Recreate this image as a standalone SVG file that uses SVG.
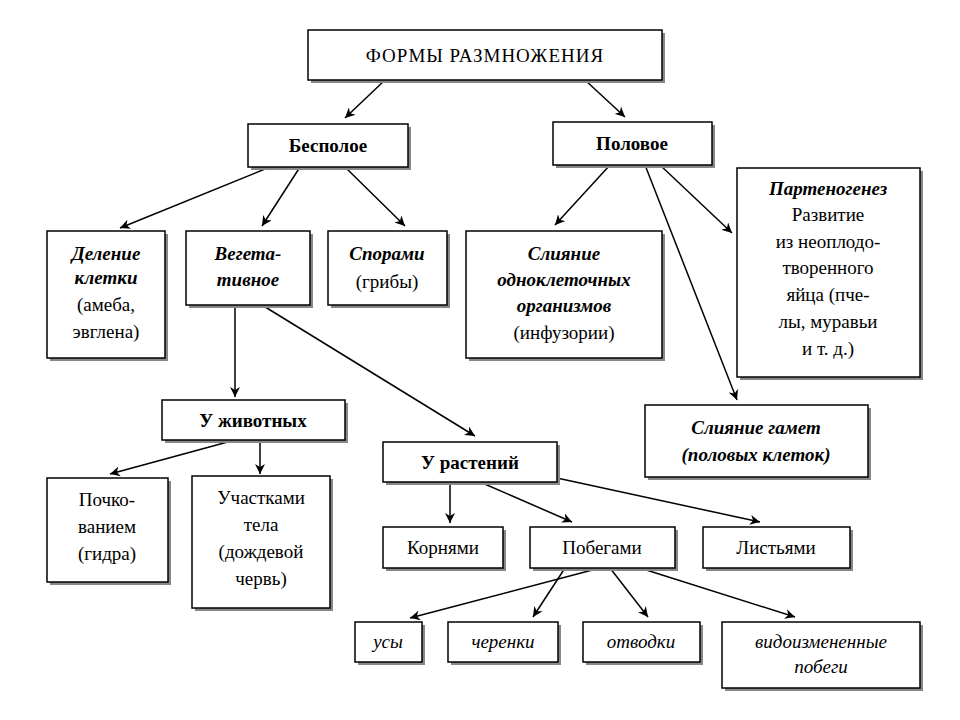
<svg xmlns="http://www.w3.org/2000/svg" width="960" height="720" viewBox="0 0 960 720">
<defs>
<marker id="a" viewBox="0 0 10 10" refX="10" refY="5" markerWidth="10" markerHeight="10" markerUnits="userSpaceOnUse" orient="auto"><path d="M0,0 L10,5 L0,10 L3,5 Z" fill="#000"/></marker>
</defs>
<style>
rect.b{fill:#fff;stroke:#000;stroke-width:1.5}
rect.s{fill:#888}
text{font-family:"Liberation Serif","Times New Roman","DejaVu Serif",serif;font-size:19px;text-anchor:middle;fill:#000}
.bd{font-weight:bold}
.bi{font-weight:bold;font-style:italic}
.it{font-style:italic}
.t{letter-spacing:1px}
line{stroke:#000;stroke-width:1.5;marker-end:url(#a)}
</style>
<rect width="960" height="720" fill="#fff"/>
<g id="connectors">
<line x1="385" y1="80" x2="345" y2="118"/>
<line x1="585" y1="80" x2="625" y2="117"/>
<line x1="270" y1="167" x2="120" y2="228"/>
<line x1="300" y1="167" x2="262" y2="226"/>
<line x1="345" y1="167" x2="405" y2="226"/>
<line x1="610" y1="165" x2="555" y2="225"/>
<line x1="660" y1="165" x2="732" y2="233"/>
<line x1="645" y1="165" x2="737" y2="400"/>
<line x1="235" y1="305" x2="235" y2="397"/>
<line x1="262" y1="305" x2="475" y2="436"/>
<line x1="260" y1="440" x2="260" y2="474"/>
<line x1="235" y1="440" x2="110" y2="474"/>
<line x1="450" y1="482" x2="450" y2="523"/>
<line x1="480" y1="482" x2="572" y2="522"/>
<line x1="520" y1="470" x2="760" y2="522"/>
<line x1="600" y1="568" x2="410" y2="618"/>
<line x1="565" y1="568" x2="533" y2="617"/>
<line x1="610" y1="568" x2="648" y2="617"/>
<line x1="640" y1="568" x2="795" y2="617"/>
</g>
<g id="n1"><rect class="s" x="311" y="33" width="354" height="50"/><rect class="b" x="308" y="30" width="354" height="50"/><text class="t" x="485" y="62">ФОРМЫ РАЗМНОЖЕНИЯ</text></g>
<g id="n2"><rect class="s" x="251" y="127" width="160" height="43"/><rect class="b" x="248" y="124" width="160" height="43"/><text class="bd" x="328" y="152">Бесполое</text></g>
<g id="n3"><rect class="s" x="556" y="125" width="159" height="43"/><rect class="b" x="553" y="122" width="159" height="43"/><text class="bd" x="632" y="150">Половое</text></g>
<g id="n4"><rect class="s" x="50" y="234" width="118" height="127"/><rect class="b" x="47" y="231" width="118" height="127"/><text class="bi" x="106" y="260">Деление</text><text class="bi" x="106" y="284">клетки</text><text x="106" y="311">(амеба,</text><text x="106" y="338">эвглена)</text></g>
<g id="n5"><rect class="s" x="189" y="234" width="124" height="74"/><rect class="b" x="186" y="231" width="124" height="74"/><text class="bi" x="248" y="260">Вегета-</text><text class="bi" x="248" y="286">тивное</text></g>
<g id="n6"><rect class="s" x="331" y="234" width="119" height="74"/><rect class="b" x="328" y="231" width="119" height="74"/><text class="bi" x="387" y="260">Спорами</text><text x="387" y="288">(грибы)</text></g>
<g id="n7"><rect class="s" x="469" y="234" width="196" height="127"/><rect class="b" x="466" y="231" width="196" height="127"/><text class="bi" x="564" y="260">Слияние</text><text class="bi" x="564" y="286">одноклеточных</text><text class="bi" x="564" y="312">организмов</text><text x="564" y="339">(инфузории)</text></g>
<g id="n8"><rect class="s" x="740" y="171" width="183" height="209"/><rect class="b" x="737" y="168" width="183" height="209"/><text class="bi" x="828" y="195">Партеногенез</text><text x="828" y="221">Развитие</text><text x="828" y="248">из неоплодо-</text><text x="828" y="274">творенного</text><text x="828" y="301">яйца (пче-</text><text x="828" y="328">лы, муравьи</text><text x="828" y="355">и т. д.)</text></g>
<g id="n9"><rect class="s" x="165" y="403" width="183" height="40"/><rect class="b" x="162" y="400" width="183" height="40"/><text class="bd" x="253" y="427">У животных</text></g>
<g id="n10"><rect class="s" x="648" y="408" width="223" height="72"/><rect class="b" x="645" y="405" width="223" height="72"/><text class="bi" x="756" y="434">Слияние гамет</text><text class="bi" x="756" y="461">(половых клеток)</text></g>
<g id="n11"><rect class="s" x="386" y="445" width="174" height="40"/><rect class="b" x="383" y="442" width="174" height="40"/><text class="bd" x="470" y="469">У растений</text></g>
<g id="n12"><rect class="s" x="50" y="481" width="121" height="104"/><rect class="b" x="47" y="478" width="121" height="104"/><text x="107" y="506">Почко-</text><text x="107" y="533">ванием</text><text x="107" y="560">(гидра)</text></g>
<g id="n13"><rect class="s" x="195" y="479" width="138" height="132"/><rect class="b" x="192" y="476" width="138" height="132"/><text x="261" y="504">Участками</text><text x="261" y="531">тела</text><text x="261" y="558">(дождевой</text><text x="261" y="585">червь)</text></g>
<g id="n14"><rect class="s" x="386" y="530" width="120" height="41"/><rect class="b" x="383" y="527" width="120" height="41"/><text x="443" y="554">Корнями</text></g>
<g id="n15"><rect class="s" x="533" y="530" width="145" height="41"/><rect class="b" x="530" y="527" width="145" height="41"/><text x="602" y="554">Побегами</text></g>
<g id="n16"><rect class="s" x="706" y="530" width="147" height="41"/><rect class="b" x="703" y="527" width="147" height="41"/><text x="776" y="554">Листьями</text></g>
<g id="n17"><rect class="s" x="358" y="625" width="67" height="40"/><rect class="b" x="355" y="622" width="67" height="40"/><text class="it" x="388" y="648">усы</text></g>
<g id="n18"><rect class="s" x="451" y="625" width="110" height="40"/><rect class="b" x="448" y="622" width="110" height="40"/><text class="it" x="503" y="648">черенки</text></g>
<g id="n19"><rect class="s" x="586" y="625" width="117" height="40"/><rect class="b" x="583" y="622" width="117" height="40"/><text class="it" x="641" y="648">отводки</text></g>
<g id="n20"><rect class="s" x="725" y="625" width="198" height="66"/><rect class="b" x="722" y="622" width="198" height="66"/><text class="it" x="821" y="648">видоизмененные</text><text class="it" x="821" y="673">побеги</text></g>
</svg>
